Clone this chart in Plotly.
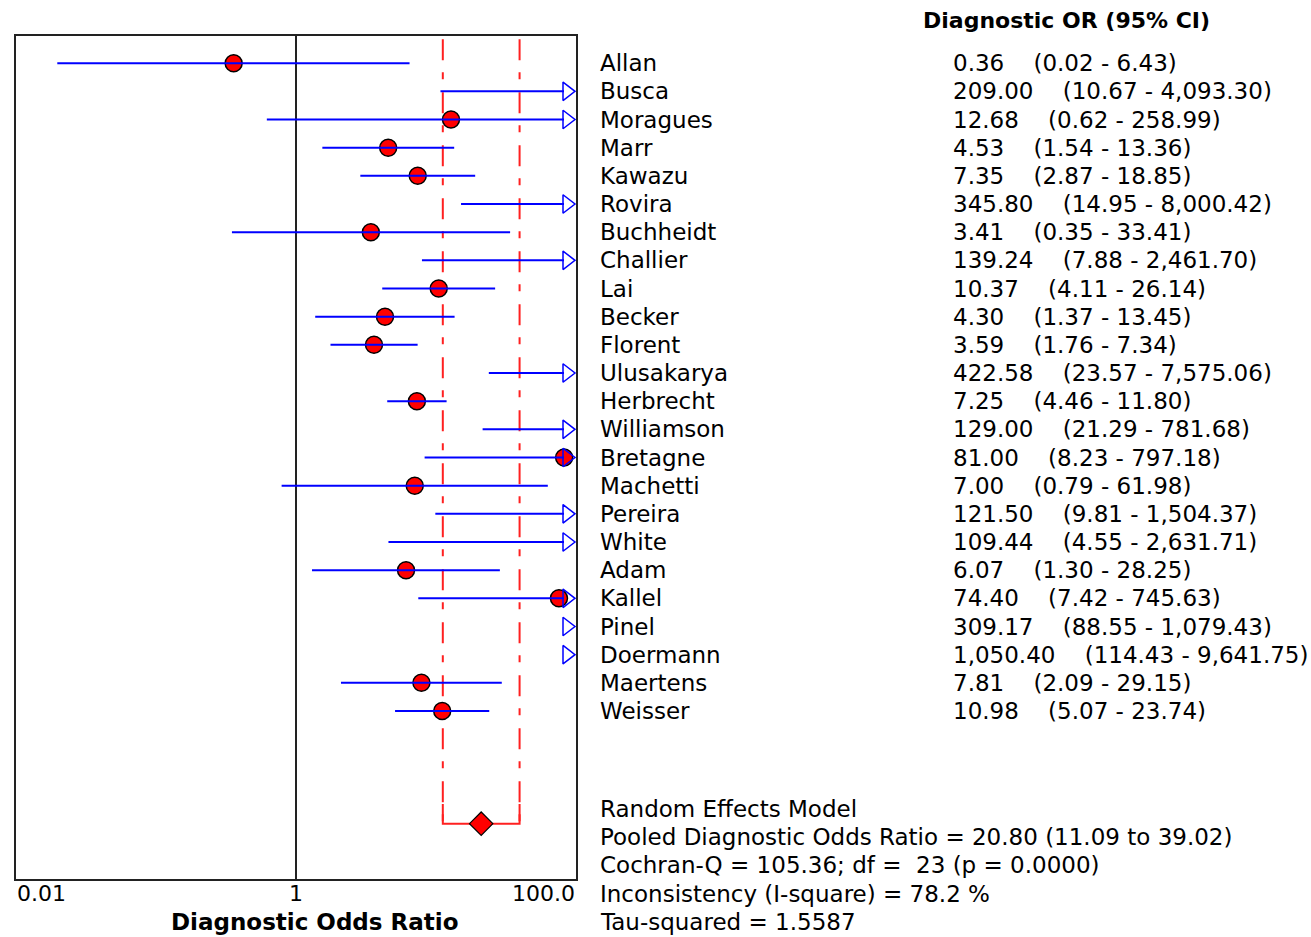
import math
import plotly.graph_objects as go

# ---------------- data ----------------
studies = ["Allan", "Busca", "Moragues", "Marr", "Kawazu", "Rovira", "Buchheidt",
           "Challier", "Lai", "Becker", "Florent", "Ulusakarya", "Herbrecht",
           "Williamson", "Bretagne", "Machetti", "Pereira", "White", "Adam",
           "Kallel", "Pinel", "Doermann", "Maertens", "Weisser"]
dor = [0.36, 209.00, 12.68, 4.53, 7.35, 345.80, 3.41, 139.24, 10.37, 4.30, 3.59,
       422.58, 7.25, 129.00, 81.00, 7.00, 121.50, 109.44, 6.07, 74.40, 309.17,
       1050.40, 7.81, 10.98]
ci_low = [0.02, 10.67, 0.62, 1.54, 2.87, 14.95, 0.35, 7.88, 4.11, 1.37, 1.76,
          23.57, 4.46, 21.29, 8.23, 0.79, 9.81, 4.55, 1.30, 7.42, 88.55,
          114.43, 2.09, 5.07]
ci_high = [6.43, 4093.30, 258.99, 13.36, 18.85, 8000.42, 33.41, 2461.70, 26.14,
           13.45, 7.34, 7575.06, 11.80, 781.68, 797.18, 61.98, 1504.37, 2631.71,
           28.25, 745.63, 1079.43, 9641.75, 29.15, 23.74]
pooled = 20.80
pooled_low = 11.09
pooled_high = 39.02
stats_lines = ["Random Effects Model",
               "Pooled Diagnostic Odds Ratio = 20.80 (11.09 to 39.02)",
               "Cochran-Q = 105.36; df =  23 (p = 0.0000)",
               "Inconsistency (I-square) = 78.2 %",
               "Tau-squared = 1.5587"]
tick_vals = [0.01, 1, 100]
tick_text = ["0.01", "1", "100.0"]
header = "Diagnostic OR (95% CI)"
x_title = "Diagnostic Odds Ratio"

# ---------------- layout constants ----------------
W, H = 1311, 937
PLOT_L, PLOT_R, PLOT_T, PLOT_B = 15, 577, 35, 880
XMIN_LOG, XMAX_LOG = -2, 2
XMAX = 10 ** XMAX_LOG
ROW_TOP, ROW_BOT = -1, 29          # frame spans these row units
POOLED_ROW = 27
px_per_row = (PLOT_B - PLOT_T) / (ROW_BOT - ROW_TOP)
px_per_dec = (PLOT_R - PLOT_L) / (XMAX_LOG - XMIN_LOG)
Y_TOP = ROW_TOP - PLOT_T / px_per_row
Y_BOT = ROW_BOT + (H - PLOT_B) / px_per_row
ARROW_CENTER = 10 ** (XMAX_LOG - 10 / px_per_dec)
LINE_MAX = 10 ** (XMAX_LOG - 13 / px_per_dec)

FONT = "DejaVu Sans"
FS = 23
FS_HEAD = 22
BLUE = "#0000FF"
RED = "#FF2020"


def xpaper(px):
    return (px - PLOT_L) / (PLOT_R - PLOT_L)


def xpaper_val(v):
    return (math.log10(v) - XMIN_LOG) / (XMAX_LOG - XMIN_LOG)


def yrow(px):
    return ROW_TOP + (px - PLOT_T) / px_per_row


rows = list(range(len(studies)))
fig = go.Figure()

# pooled CI reference lines (red dash-dot)
fig.add_trace(go.Scatter(
    x=[pooled_low, pooled_low, None, pooled_high, pooled_high],
    y=[ROW_TOP + 0.15, POOLED_ROW, None, ROW_TOP + 0.15, POOLED_ROW],
    mode="lines", line=dict(color=RED, width=2, dash="21px,12px,7px,13px"),
    hoverinfo="skip", showlegend=False))
fig.add_trace(go.Scatter(
    x=[pooled_low, pooled_low, pooled_high, pooled_high],
    y=[POOLED_ROW - 0.7, POOLED_ROW, POOLED_ROW, POOLED_ROW - 0.7],
    mode="lines", line=dict(color=RED, width=2),
    hoverinfo="skip", showlegend=False))

# line of no effect
fig.add_trace(go.Scatter(x=[1, 1], y=[ROW_TOP, ROW_BOT], mode="lines",
                         line=dict(color="#222222", width=2),
                         hoverinfo="skip", showlegend=False))

# point estimates
px_, py_ = [], []
for r, v in zip(rows, dor):
    if v <= XMAX:
        px_.append(v)
        py_.append(r)
fig.add_trace(go.Scatter(x=px_, y=py_, mode="markers",
                         marker=dict(symbol="circle", size=17, color="#FF0000",
                                     line=dict(color="black", width=1.5)),
                         showlegend=False))

# CI lines
lx, ly = [], []
for r, lo, hi in zip(rows, ci_low, ci_high):
    if lo >= LINE_MAX:
        continue
    lx += [lo, min(hi, LINE_MAX), None]
    ly += [r, r, None]
fig.add_trace(go.Scatter(x=lx, y=ly, mode="lines",
                         line=dict(color=BLUE, width=2),
                         hoverinfo="skip", showlegend=False))

# arrows for CIs beyond the axis
ax_, ay_ = [], []
for r, hi in zip(rows, ci_high):
    if hi > XMAX:
        ax_.append(ARROW_CENTER)
        ay_.append(r)
fig.add_trace(go.Scatter(x=ax_, y=ay_, mode="markers",
                         marker=dict(symbol="triangle-right-open", size=16,
                                     color=BLUE, line=dict(color=BLUE, width=1.5)),
                         hoverinfo="skip", showlegend=False))

# pooled diamond
fig.add_trace(go.Scatter(x=[pooled], y=[POOLED_ROW], mode="markers",
                         marker=dict(symbol="diamond", size=18, color="#FF0000",
                                     line=dict(color="black", width=1.2)),
                         showlegend=False))

# plot frame
fig.add_shape(type="rect", xref="paper", yref="y", x0=0, x1=1,
              y0=ROW_TOP, y1=ROW_BOT, line=dict(color="#222222", width=2),
              layer="above")

ann = []
# tick labels
anchors = ["left", "center", "right"]
for v, t, a in zip(tick_vals, tick_text, anchors):
    ann.append(dict(x=xpaper_val(v), xref="paper", y=yrow(893), yref="y",
                    text=t, xanchor=a, yanchor="middle", showarrow=False,
                    font=dict(family=FONT, size=FS_HEAD, color="black")))
ann.append(dict(x=xpaper(315), xref="paper", y=yrow(922), yref="y",
                text="<b>" + x_title + "</b>", xanchor="center", yanchor="middle",
                showarrow=False, font=dict(family=FONT, size=FS, color="black")))
# header
ann.append(dict(x=xpaper(921), xref="paper", y=yrow(20), yref="y",
                text="<b>" + header + "</b>", xanchor="left", yanchor="middle",
                showarrow=False, font=dict(family=FONT, size=FS_HEAD, color="black")))
# study rows
NB = "\u00a0"
for r, s, v, lo, hi in zip(rows, studies, dor, ci_low, ci_high):
    ann.append(dict(x=xpaper(598), xref="paper", y=r, yref="y", text=s,
                    xanchor="left", yanchor="middle", showarrow=False,
                    font=dict(family=FONT, size=FS, color="black")))
    txt = f"{v:,.2f}" + NB * 4 + f"({lo:,.2f} - {hi:,.2f})"
    ann.append(dict(x=xpaper(951), xref="paper", y=r, yref="y", text=txt,
                    xanchor="left", yanchor="middle", showarrow=False,
                    font=dict(family=FONT, size=FS, color="black")))
# stats block
for k, line in enumerate(stats_lines):
    ann.append(dict(x=xpaper(598), xref="paper", y=yrow(809) + k * 1.0, yref="y",
                    text=line.replace(" ", NB), xanchor="left", yanchor="middle",
                    showarrow=False,
                    font=dict(family=FONT, size=FS, color="black")))

fig.update_layout(
    width=W, height=H,
    margin=dict(l=PLOT_L, r=W - PLOT_R, t=0, b=0),
    paper_bgcolor="white", plot_bgcolor="white",
    xaxis=dict(type="log", range=[XMIN_LOG, XMAX_LOG], showgrid=False,
               zeroline=False, showticklabels=False, ticks="", showline=False),
    yaxis=dict(range=[Y_BOT, Y_TOP], showgrid=False, zeroline=False,
               showticklabels=False, ticks="", showline=False),
    annotations=ann,
    showlegend=False,
)

fig.write_html("out.html")
